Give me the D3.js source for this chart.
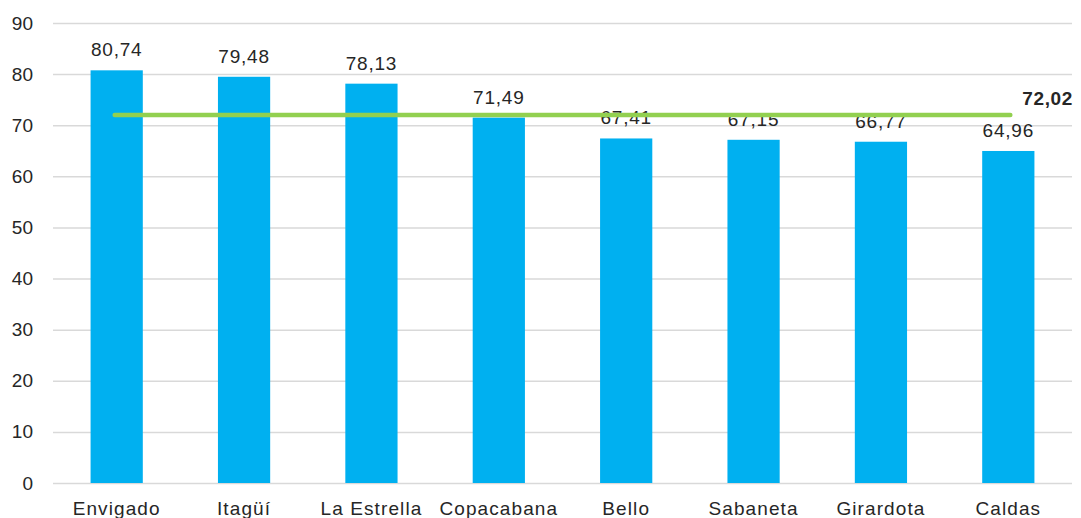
<!DOCTYPE html>
<html>
<head>
<meta charset="utf-8">
<script src="https://cdn.jsdelivr.net/npm/d3@7"></script>
<style>
  html, body { margin: 0; padding: 0; background: #fff; }
  svg { display: block; font-family: "Liberation Sans", Arial, sans-serif; }
</style>
</head>
<body>
<svg id="chart" width="1081" height="518"></svg>
<script>
// Municipios y valores del indicador
const categories = ["Envigado", "Itagüí", "La Estrella", "Copacabana", "Bello", "Sabaneta", "Girardota", "Caldas"];
const values = [80.74, 79.48, 78.13, 71.49, 67.41, 67.15, 66.77, 64.96];
const average = 72.02;
const yTicks = [0, 10, 20, 30, 40, 50, 60, 70, 80, 90];

const fmt = v => v.toFixed(2).replace(".", ",");

const svg = d3.select("#chart");
const margin = { left: 53, right: 9, top: 23, bottom: 35 };
const W = 1081, H = 518;

const x = d3.scaleBand()
  .domain(categories)
  .range([margin.left, W - margin.right])
  .paddingInner(0.59)
  .paddingOuter(0.295);

const y = d3.scaleLinear()
  .domain([0, 90])
  .range([H - margin.bottom, margin.top]);

// Líneas de cuadrícula y etiquetas del eje Y
const yAxis = svg.append("g")
  .attr("transform", `translate(${margin.left},0)`)
  .call(d3.axisLeft(y).tickValues(yTicks).tickSize(-(W - margin.right - margin.left)).tickPadding(20));
yAxis.select(".domain").remove();
yAxis.selectAll(".tick line").attr("stroke", "#d9d9d9").attr("stroke-width", 1.5);
yAxis.selectAll(".tick text")
  .attr("font-size", 19)
  .attr("fill", "#262626")
  .attr("font-family", "Liberation Sans, Arial, sans-serif");

// Barras
svg.append("g").selectAll("rect")
  .data(values)
  .join("rect")
  .attr("x", (d, i) => x(categories[i]))
  .attr("y", d => y(d))
  .attr("width", x.bandwidth())
  .attr("height", d => y(0) - y(d))
  .attr("fill", "#00B0F0");

// Etiquetas de valor
svg.append("g").selectAll("text")
  .data(values)
  .join("text")
  .attr("x", (d, i) => x(categories[i]) + x.bandwidth() / 2)
  .attr("y", d => y(d) - 14)
  .attr("text-anchor", "middle")
  .attr("font-size", 19)
  .attr("letter-spacing", 0.8)
  .attr("fill", "#262626")
  .text(d => fmt(d));

// Línea del promedio
const x0 = x(categories[0]) + x.bandwidth() / 2;
const x1 = x(categories[categories.length - 1]) + x.bandwidth() / 2;
svg.append("line")
  .attr("x1", x0 - 2)
  .attr("x2", x1 + 2)
  .attr("y1", y(average))
  .attr("y2", y(average))
  .attr("stroke", "#92D050")
  .attr("stroke-width", 4.5)
  .attr("stroke-linecap", "round");

svg.append("text")
  .attr("x", x1 + 14)
  .attr("y", y(average) - 10)
  .attr("font-size", 19)
  .attr("font-weight", "bold")
  .attr("letter-spacing", 0.6)
  .attr("fill", "#262626")
  .text(fmt(average));

// Etiquetas de categoría
svg.append("g").selectAll("text")
  .data(categories)
  .join("text")
  .attr("x", d => x(d) + x.bandwidth() / 2)
  .attr("y", H - 3)
  .attr("text-anchor", "middle")
  .attr("font-size", 19)
  .attr("letter-spacing", 1.1)
  .attr("fill", "#262626")
  .text(d => d);
</script>
</body>
</html>
